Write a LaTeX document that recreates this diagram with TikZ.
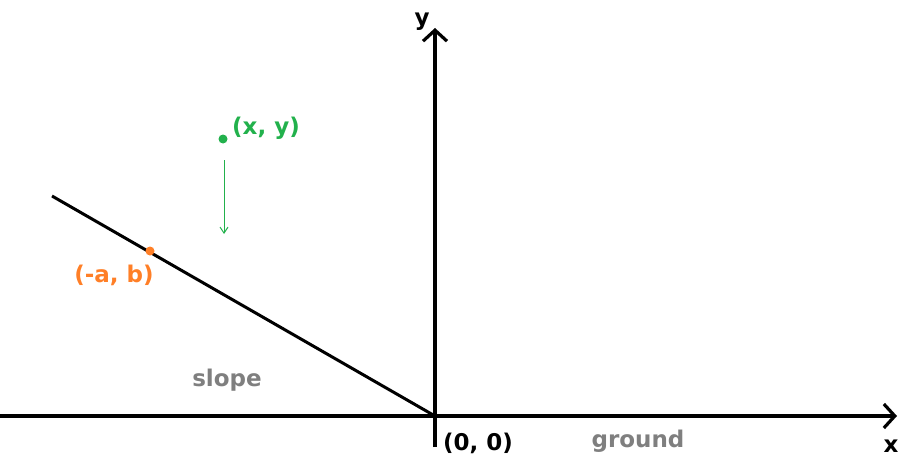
\documentclass[tikz,border=0pt]{standalone}
\usepackage{fontspec}
\setmainfont{DejaVu Sans}
\usetikzlibrary{arrows.meta}
\definecolor{pgreen}{RGB}{34,177,76}
\definecolor{porange}{RGB}{255,127,39}
\definecolor{pgray}{RGB}{127,127,127}
\tikzset{
  axis/.style={line width=3.2pt, black, -{Straight Barb[length=11pt,width=24pt,line width=3.2pt]}},
  lbl/.style={font=\fontsize{23}{23}\selectfont\bfseries, inner sep=0pt},
}
\begin{document}
\begin{tikzpicture}[x=1pt,y=-1pt]
\useasboundingbox (0,0) rectangle (899,460);
\coordinate (xs) at (0,416);
\coordinate (xe) at (897,416);
\coordinate (ys) at (435,447);
\coordinate (ye) at (435,28);
\coordinate (sl) at (52,196);
\coordinate (o) at (435,416);
\draw[axis] (xs) -- (xe);
\draw[axis] (ys) -- (ye);
\draw[line width=3pt] (sl) -- (o);
\node[lbl] (ylab) at (422,22) {y};
\node[lbl] (xlab) at (891,446) {x};
\node[lbl] (orig) at (478,443) {(0, 0)};
\node[lbl, text=pgray] (ground) at (638,441) {ground};
\node[lbl, text=pgray] (slope) at (227,380) {slope};
\fill[porange] (150,251) circle (4.5pt) coordinate (pab);
\node[lbl, text=porange] (abl) at (114,275) {(-a, b)};
\fill[pgreen] (223,139) circle (4.5pt) coordinate (pxy);
\node[lbl, text=pgreen] (xyl) at (266,128) {(x, y)};
\coordinate (ga) at (224,160);
\coordinate (gb) at (224,234);
\draw[pgreen, line width=1pt, -{Straight Barb[length=6pt,width=8pt]}] (ga) -- (gb);
\end{tikzpicture}
\end{document}
